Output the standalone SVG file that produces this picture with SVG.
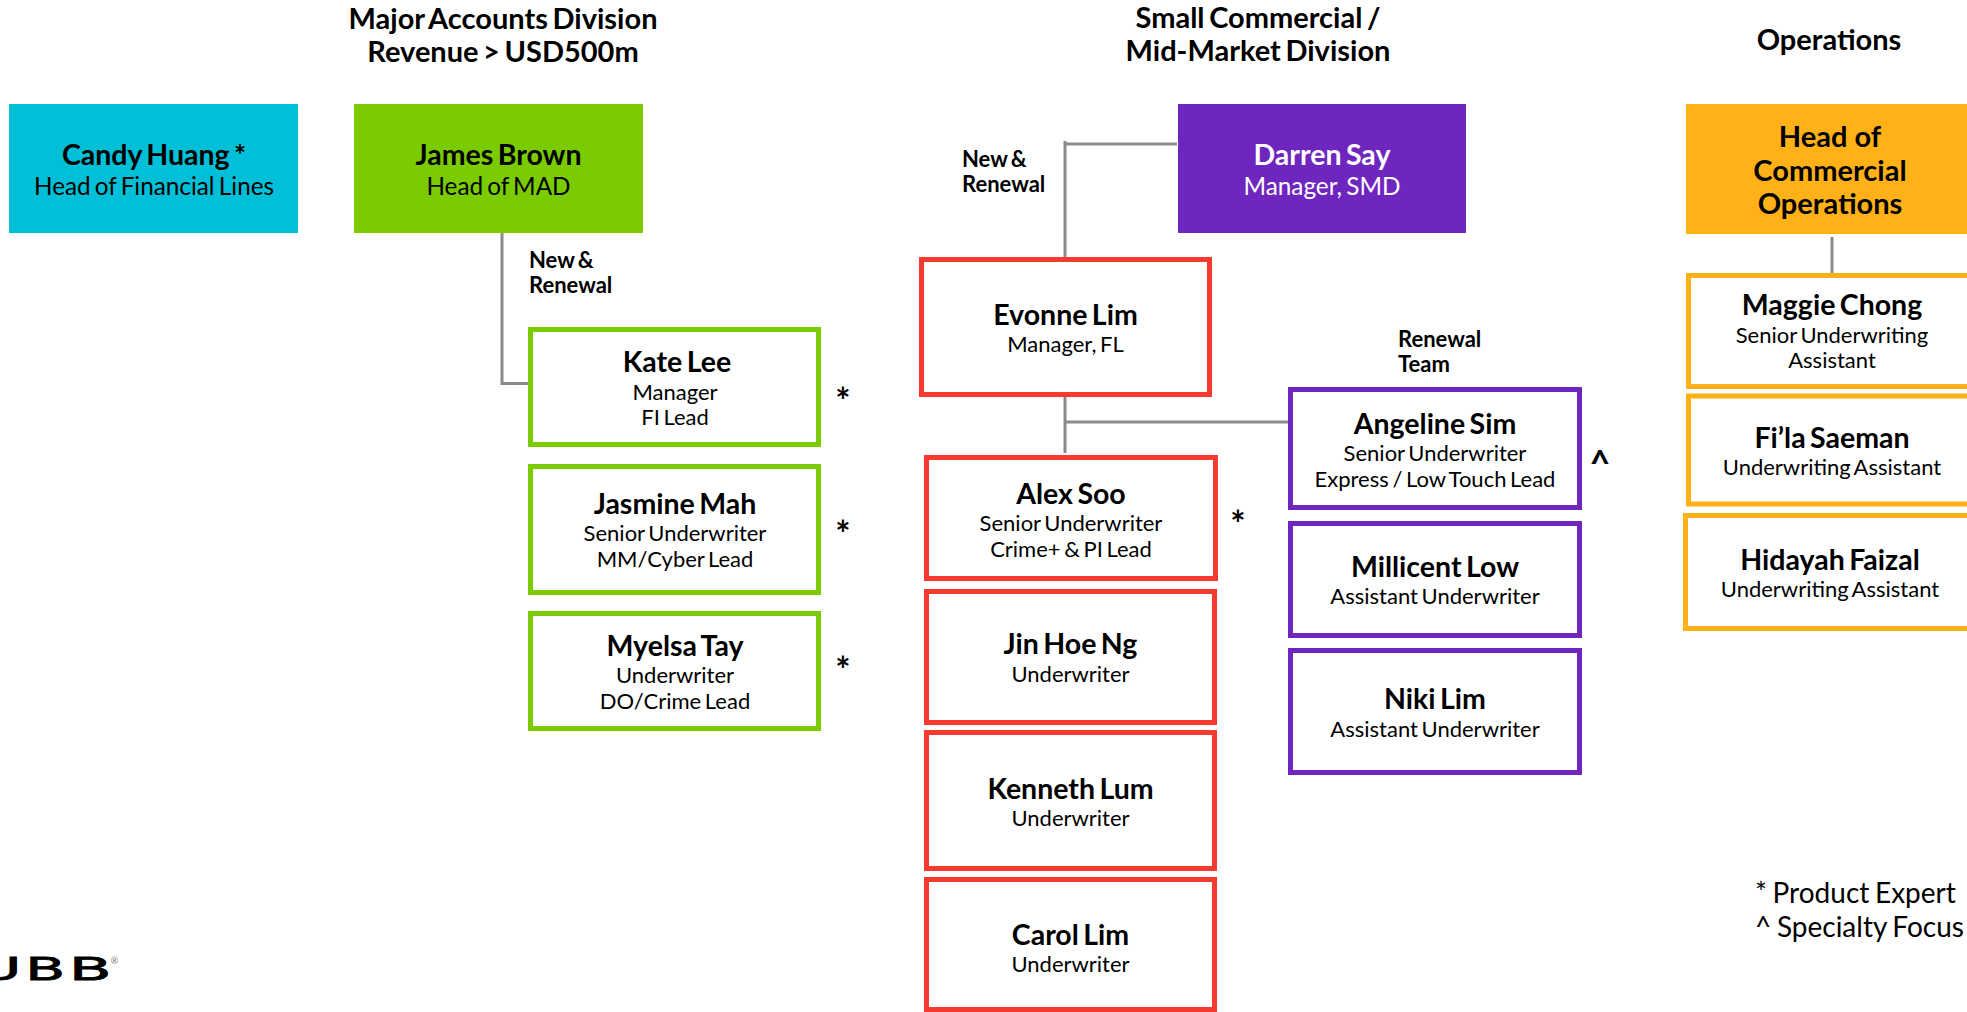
<svg xmlns="http://www.w3.org/2000/svg" width="1967" height="1012" viewBox="0 0 1967 1012">
<style>
text{font-family:Lato,"Liberation Sans",sans-serif;fill:#000;text-anchor:middle}
.h{font-size:29px;font-weight:700;word-spacing:-2.5px}
.n{font-size:28.500px;font-weight:700;word-spacing:-2.5px}
.b{font-size:29px;font-weight:700}
.s{font-size:22px;word-spacing:-2px}
.t{font-size:24.300px;word-spacing:-2px}
.l{font-size:22px;font-weight:700;text-anchor:start;word-spacing:-2px}
.m{font-size:36px;font-weight:700}
.g{font-size:28px;text-anchor:start;word-spacing:-1.500px}
.w{fill:#fff}
.o{fill:#fff;stroke-width:5}
.gn{stroke:#7ACC00}.rd{stroke:#F53A30}.pu{stroke:#6F26BF}.or{stroke:#FFB117}
.c{fill:none;stroke:#8A8A8A;stroke-width:3}
.logo{font-family:"DejaVu Sans",sans-serif;font-size:32px;text-anchor:start;stroke:#000;stroke-width:.8px}
</style>
<g id="headers">
<text class="h" x="503" y="29">Major Accounts Division</text>
<text class="h" x="503" y="62">Revenue &gt; USD500m</text>
<text class="h" x="1258" y="28">Small Commercial /</text>
<text class="h" x="1258" y="61">Mid-Market Division</text>
<text class="h" x="1829" y="50">Operations</text>
</g>
<g id="connectors">
<path class="c" d="M502 233V383.500H530"/>
<path class="c" d="M1177 144H1065M1065 141V261"/>
<path class="c" d="M1065 397V453M1065 422H1290"/>
<path class="c" d="M1832 237V275"/>
</g>
<g id="candy"><rect x="9" y="104" width="289" height="129" fill="#00BFD6"/><text class="n" x="154" y="165">Candy Huang *</text><text class="t" x="154" y="195">Head of Financial Lines</text></g>
<g id="james"><rect x="354" y="104" width="289" height="129" fill="#7ACC00"/><text class="n" x="498.500" y="165">James Brown</text><text class="t" x="498.500" y="195">Head of MAD</text></g>
<g id="darren"><rect x="1178" y="104" width="288" height="129" fill="#6F26BF"/><text class="n w" x="1322" y="165">Darren Say</text><text class="t w" x="1322" y="195">Manager, SMD</text></g>
<g id="headops"><rect x="1686" y="104" width="292" height="130" fill="#FFB117"/><text class="b" x="1830" y="147">Head of</text><text class="b" x="1830" y="181">Commercial</text><text class="b" x="1830" y="214">Operations</text></g>
<g id="kate"><rect class="o gn" x="530.500" y="329.500" width="288" height="115"/><text class="n" x="677" y="372">Kate Lee</text><text class="s" x="675" y="400">Manager</text><text class="s" x="675" y="425">FI Lead</text></g>
<g id="jasmine"><rect class="o gn" x="530.500" y="466.500" width="288" height="126"/><text class="n" x="675" y="514">Jasmine Mah</text><text class="s" x="675" y="541">Senior Underwriter</text><text class="s" x="675" y="567">MM/Cyber Lead</text></g>
<g id="myelsa"><rect class="o gn" x="530.500" y="613.500" width="288" height="115"/><text class="n" x="675" y="656">Myelsa Tay</text><text class="s" x="675" y="683">Underwriter</text><text class="s" x="675" y="709">DO/Crime Lead</text></g>
<g id="evonne"><rect class="o rd" x="921.500" y="259.500" width="288" height="135"/><text class="n" x="1065.500" y="325">Evonne Lim</text><text class="s" x="1065.500" y="352">Manager, FL</text></g>
<g id="alex"><rect class="o rd" x="926.500" y="457.500" width="289" height="121"/><text class="n" x="1071" y="504">Alex Soo</text><text class="s" x="1071" y="531">Senior Underwriter</text><text class="s" x="1071" y="557">Crime+ &amp; PI Lead</text></g>
<g id="jin"><rect class="o rd" x="926.500" y="591.500" width="288" height="131"/><text class="n" x="1070.500" y="654">Jin Hoe Ng</text><text class="s" x="1070.500" y="682">Underwriter</text></g>
<g id="kenneth"><rect class="o rd" x="926.500" y="732.500" width="288" height="136"/><text class="n" x="1070.500" y="799">Kenneth Lum</text><text class="s" x="1070.500" y="826">Underwriter</text></g>
<g id="carol"><rect class="o rd" x="926.500" y="879.500" width="288" height="130"/><text class="n" x="1070.500" y="945">Carol Lim</text><text class="s" x="1070.500" y="972">Underwriter</text></g>
<g id="angeline"><rect class="o pu" x="1290.500" y="389.500" width="289" height="118"/><text class="n" x="1435" y="434">Angeline Sim</text><text class="s" x="1435" y="461">Senior Underwriter</text><text class="s" x="1435" y="487">Express / Low Touch Lead</text></g>
<g id="millicent"><rect class="o pu" x="1290.500" y="523.500" width="289" height="112"/><text class="n" x="1435" y="577">Millicent Low</text><text class="s" x="1435" y="604">Assistant Underwriter</text></g>
<g id="niki"><rect class="o pu" x="1290.500" y="650.500" width="289" height="122"/><text class="n" x="1435" y="709">Niki Lim</text><text class="s" x="1435" y="737">Assistant Underwriter</text></g>
<g id="maggie"><rect class="o or" x="1688.500" y="275.500" width="290" height="111"/><text class="n" x="1832" y="315">Maggie Chong</text><text class="s" x="1832" y="343">Senior Underwriting</text><text class="s" x="1832" y="368">Assistant</text></g>
<g id="fila"><rect class="o or" x="1688.500" y="396" width="290" height="108"/><text class="n" x="1832" y="448">Fi’la Saeman</text><text class="s" x="1832" y="475">Underwriting Assistant</text></g>
<g id="hidayah"><rect class="o or" x="1685.500" y="515.500" width="293" height="113"/><text class="n" x="1830" y="570">Hidayah Faizal</text><text class="s" x="1830" y="597">Underwriting Assistant</text></g>
<g id="labels">
<text class="l" x="529" y="268">New &amp;</text><text class="l" x="529" y="293">Renewal</text>
<text class="l" x="962" y="167">New &amp;</text><text class="l" x="962" y="192">Renewal</text>
<text class="l" x="1398" y="347">Renewal</text><text class="l" x="1398" y="372">Team</text>
<text class="m" x="843" y="414">*</text><text class="m" x="843" y="547">*</text><text class="m" x="843" y="683">*</text><text class="m" x="1238" y="537">*</text><text class="m" x="1600" y="476">^</text>
<text class="g" x="1755" y="903">* Product Expert</text><text class="g" x="1755" y="937">^ Specialty Focus</text>
</g>
<g id="logo">
<text class="logo" transform="translate(-22 980) scale(1.850 1)">U</text>
<text class="logo" transform="translate(25.300 980) scale(1.820 1)">B</text>
<text class="logo" transform="translate(69 980) scale(1.940 1)">B</text>
<text x="114.500" y="964" style="font-size:9px;fill:#777">®</text>
</g>
</svg>
